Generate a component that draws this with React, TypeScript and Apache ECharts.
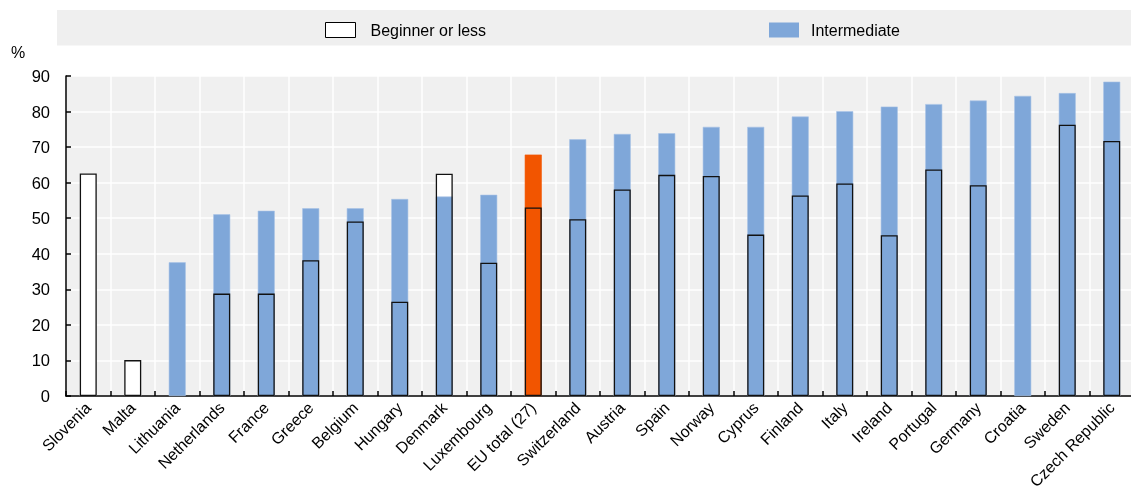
import React, { useEffect, useRef } from "react";
import * as echarts from "echarts";

const categories = [
  "Slovenia", "Malta", "Lithuania", "Netherlands", "France", "Greece", "Belgium", "Hungary",
  "Denmark", "Luxembourg", "EU total (27)", "Switzerland", "Austria", "Spain", "Norway",
  "Cyprus", "Finland", "Italy", "Ireland", "Portugal", "Germany", "Croatia", "Sweden",
  "Czech Republic",
];
const beginnerOrLess: (number | null)[] = [
  62.6, 10.1, null, 28.8, 28.8, 38.2, 49.1, 26.5, 62.5, 37.5, 53.0, 49.7, 58.1, 62.2, 61.9,
  45.4, 56.4, 59.8, 45.2, 63.7, 59.3, null, 76.3, 71.7,
];
const intermediate: (number | null)[] = [
  null, null, 37.6, 51.1, 52.1, 52.8, 52.8, 55.4, 56.1, 56.6, 67.9, 72.2, 73.7, 73.9, 75.7,
  75.7, 78.6, 80.1, 81.4, 82.1, 83.1, 84.4, 85.2, 88.4,
];
const highlightCategory = "EU total (27)";
const seriesNames = ["Beginner or less", "Intermediate"];
const yMin = 0;
const yMax = 90;
const yStep = 10;

const FONT = "'Liberation Sans', Arial, sans-serif";
const BLUE = "#7FA7D9";
const ORANGE = "#F25500";
const BAR_W = 17;

export default function App() {
  const ref = useRef<HTMLDivElement>(null);
  useEffect(() => {
    if (!ref.current) return;
    const chart = echarts.init(ref.current, null, { renderer: "svg" });
    const interData = intermediate.map((v, i) =>
      categories[i] === highlightCategory
        ? { value: v, itemStyle: { color: ORANGE, borderColor: ORANGE } }
        : { value: v }
    );
    chart.setOption({
      animation: false,
      textStyle: { fontFamily: FONT },
      graphic: [
        {
          type: "rect",
          silent: true,
          z: -10,
          shape: { x: 57, y: 10, width: 1080, height: 35.5 },
          style: { fill: "#EFEFEF" },
        },
        {
          type: "text",
          left: 11,
          top: 44,
          style: { text: "%", fontSize: 16, fontFamily: FONT, fill: "#000" },
        },
      ],
      legend: [
        {
          left: 325,
          top: 22,
          padding: 0,
          itemWidth: 30,
          itemHeight: 15,
          selectedMode: false,
          textStyle: { fontSize: 16, color: "#000", fontFamily: FONT, padding: [0, 0, 0, 10] },
          data: [
            {
              name: seriesNames[0],
              icon: "rect",
              itemStyle: { color: "#fff", borderColor: "#000", borderWidth: 1 },
            },
          ],
        },
        {
          left: 769,
          top: 22,
          padding: 0,
          itemWidth: 30,
          itemHeight: 15,
          selectedMode: false,
          textStyle: { fontSize: 16, color: "#000", fontFamily: FONT, padding: [0, 0, 0, 7] },
          data: [{ name: seriesNames[1], icon: "rect", itemStyle: { color: BLUE, borderWidth: 0 } }],
        },
      ],
      grid: {
        left: 66,
        right: -3,
        top: 76,
        bottom: 93,
        show: true,
        backgroundColor: "#F0F0F0",
        borderWidth: 0,
        containLabel: false,
        outerBoundsMode: "none",
      },
      xAxis: {
        type: "category",
        data: categories,
        axisLine: { show: true, lineStyle: { color: "#000", width: 1.5 } },
        axisTick: { show: true, inside: true, length: 5, interval: 0, lineStyle: { color: "#000", width: 1.5 } },
        splitLine: { show: true, interval: 0, lineStyle: { color: "#fff", width: 1.5 } },
        axisLabel: {
          interval: 0,
          rotate: 45,
          fontSize: 16,
          color: "#000",
          fontFamily: FONT,
          margin: 9,
        },
      },
      yAxis: {
        type: "value",
        min: yMin,
        max: yMax,
        interval: yStep,
        axisLine: { show: true, lineStyle: { color: "#000", width: 1.5 } },
        axisTick: { show: true, inside: true, length: 5, lineStyle: { color: "#000", width: 1.5 } },
        splitLine: { show: true, lineStyle: { color: "#fff", width: 1.5 } },
        axisLabel: { fontSize: 16.5, color: "#000", fontFamily: FONT, margin: 16 },
      },
      series: [
        {
          name: seriesNames[0],
          type: "bar",
          barWidth: BAR_W,
          barGap: "-100%",
          z: 1,
          data: beginnerOrLess,
          itemStyle: { color: "#fff", borderColor: "#000", borderWidth: 0 },
        },
        {
          name: seriesNames[1],
          type: "bar",
          barWidth: BAR_W,
          barGap: "-100%",
          z: 2,
          data: interData,
          itemStyle: { color: BLUE, borderColor: "#A8C3E6", borderWidth: 0.6 },
        },
        {
          name: "outline",
          type: "bar",
          barWidth: BAR_W,
          barGap: "-100%",
          z: 3,
          data: beginnerOrLess,
          itemStyle: { color: "rgba(0,0,0,0)", borderColor: "#111", borderWidth: 1.3 },
        },
      ],
    });
    return () => chart.dispose();
  }, []);
  return (
    <div
      ref={ref}
      style={{ position: "fixed", left: 0, top: 0, width: 1131, height: 489 }}
    />
  );
}
